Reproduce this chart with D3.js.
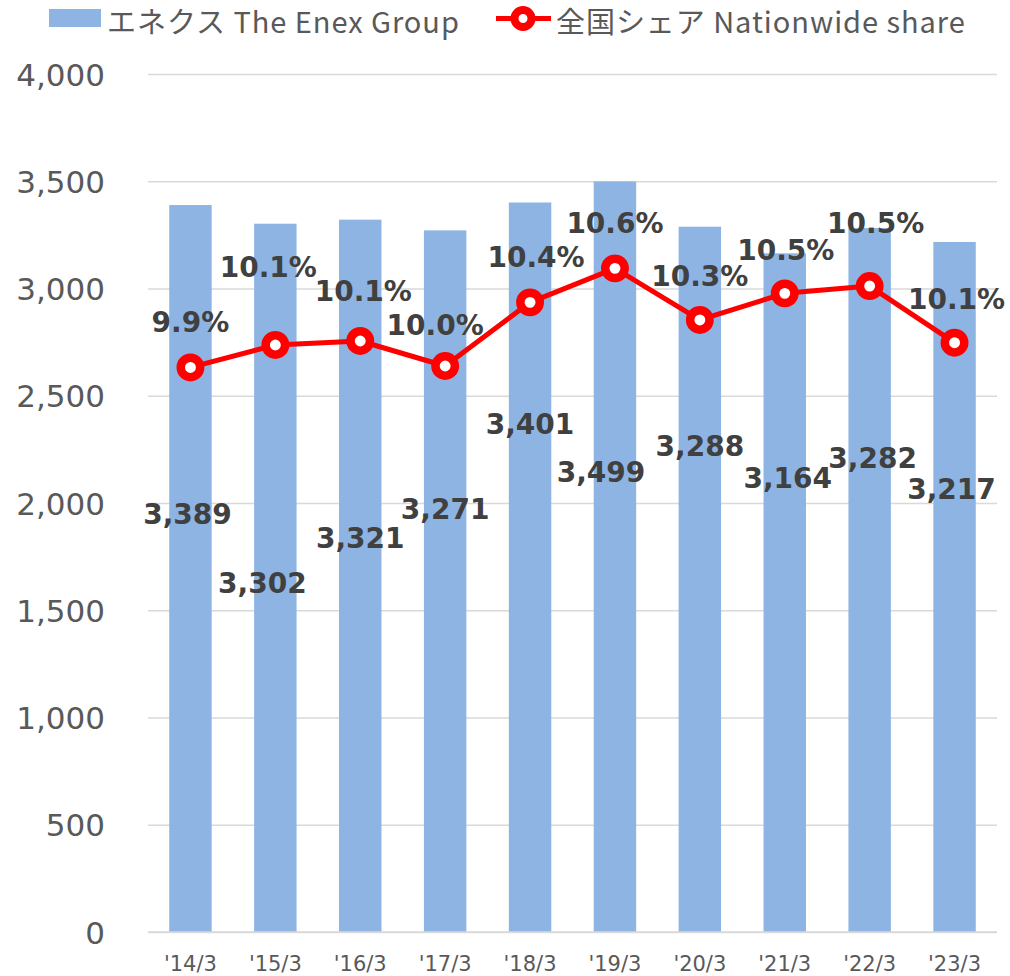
<!DOCTYPE html>
<html>
<head>
<meta charset="utf-8">
<script src="https://cdn.jsdelivr.net/npm/d3@7"></script>
<style>
    body { margin: 0; background: #fff; }
    svg { display: block; }
</style>
</head>
<body>
<svg id="chart" width="1010" height="976"></svg>
<script>
// data
const categories = ["'14/3", "'15/3", "'16/3", "'17/3", "'18/3", "'19/3", "'20/3", "'21/3", "'22/3", "'23/3"];
const enexValues = [3389, 3302, 3321, 3271, 3401, 3499, 3288, 3164, 3282, 3217];
const shareValues = [9.948, 10.105, 10.133, 9.958, 10.403, 10.641, 10.280, 10.466, 10.517, 10.121];
const yTicks = [0, 500, 1000, 1500, 2000, 2500, 3000, 3500, 4000];

// hand-placed label nudges (dx, dy of baseline from the anchor point)
const barLabelNudge = [[-3, 319], [-13, 369], [0, 328], [0, 289], [0, 232], [-14, 301], [0, 229], [3, 235], [3, 240], [-3, 257]];
const shareLabelNudge = [[0, -35], [-7, -68], [3, -40], [-10, -31], [6, -35], [0, -35], [0, -34], [1, -33], [6, -53], [2, -34]];

const BAR_COLOR = "#8eb4e3";
const LINE_COLOR = "#ff0000";
const TEXT_GREY = "#595959";
const LABEL_DARK = "#404040";
const FONT = "'DejaVu Sans'";

var svg = d3.select("#chart");
const plot = { left: 148, right: 997, top: 74, bottom: 932 };

const x = d3.scaleBand()
    .domain(categories)
    .range([plot.left, plot.right])
    .paddingInner(0.5)
    .paddingOuter(0.25);
const y = d3.scaleLinear().domain([0, 4000]).range([plot.bottom, plot.top]);
// hidden secondary axis for the share line
const y2 = d3.scaleLinear().domain([6, 12]).range([plot.bottom, plot.top]);

const cx = i => x(categories[i]) + x.bandwidth() / 2;

// gridlines + left ticks
const yAxis = svg.append("g")
    .attr("transform", `translate(${plot.left},0)`)
    .call(d3.axisLeft(y)
        .tickValues(yTicks)
        .tickSize(-(plot.right - plot.left))
        .tickPadding(43)
        .tickFormat(d3.format(",")));
yAxis.select(".domain").remove();
yAxis.selectAll(".tick line")
    .attr("stroke", "#d9d9d9")
    .attr("stroke-width", 1.5);
yAxis.selectAll(".tick text")
    .attr("fill", TEXT_GREY)
    .style("font-family", FONT)
    .style("font-size", "31px")
    .attr("dy", "0.36em");

// bars
svg.append("g").selectAll("rect")
    .data(enexValues)
    .join("rect")
    .attr("x", (d, i) => x(categories[i]))
    .attr("y", d => y(d))
    .attr("width", x.bandwidth())
    .attr("height", d => y(0) - y(d))
    .attr("fill", BAR_COLOR);

// redraw baseline on top of bars
svg.append("line")
    .attr("x1", plot.left).attr("x2", plot.right)
    .attr("y1", y(0)).attr("y2", y(0))
    .attr("stroke", "#d9d9d9").attr("stroke-width", 1.5);

// category labels
svg.append("g").selectAll("text")
    .data(categories)
    .join("text")
    .attr("x", (d, i) => cx(i))
    .attr("y", 971)
    .attr("text-anchor", "middle")
    .attr("fill", TEXT_GREY)
    .style("font-family", FONT)
    .style("font-size", "21px")
    .text(d => d);

// bar value labels
svg.append("g").selectAll("text")
    .data(enexValues)
    .join("text")
    .attr("x", (d, i) => cx(i) + barLabelNudge[i][0])
    .attr("y", (d, i) => y(d) + barLabelNudge[i][1])
    .attr("text-anchor", "middle")
    .attr("fill", LABEL_DARK)
    .style("font-family", FONT)
    .style("font-weight", "bold")
    .style("font-size", "28px")
    .text(d => d3.format(",")(d));

// share line
const line = d3.line()
    .x((d, i) => cx(i))
    .y(d => y2(d));
svg.append("path")
    .datum(shareValues)
    .attr("d", line)
    .attr("fill", "none")
    .attr("stroke", LINE_COLOR)
    .attr("stroke-width", 5)
    .attr("stroke-linejoin", "round");

svg.append("g").selectAll("circle")
    .data(shareValues)
    .join("circle")
    .attr("cx", (d, i) => cx(i))
    .attr("cy", d => y2(d))
    .attr("r", 9.7)
    .attr("fill", "#fff")
    .attr("stroke", LINE_COLOR)
    .attr("stroke-width", 8.5);

// share labels
svg.append("g").selectAll("text")
    .data(shareValues)
    .join("text")
    .attr("x", (d, i) => cx(i) + shareLabelNudge[i][0])
    .attr("y", (d, i) => y2(d) + shareLabelNudge[i][1])
    .attr("text-anchor", "middle")
    .attr("fill", LABEL_DARK)
    .style("font-family", FONT)
    .style("font-weight", "bold")
    .style("font-size", "28px")
    .text(d => d.toFixed(1) + "%");

// legend
const legend = svg.append("g")
    .style("font-family", "'Noto Sans CJK JP', sans-serif")
    .style("font-size", "29px")
    .style("letter-spacing", "0.95px");
legend.append("rect")
    .attr("x", 49).attr("y", 9)
    .attr("width", 52).attr("height", 18)
    .attr("fill", BAR_COLOR);
legend.append("text")
    .attr("x", 107).attr("y", 33)
    .attr("fill", TEXT_GREY)
    .text("エネクス The Enex Group");
legend.append("line")
    .attr("x1", 496).attr("x2", 551)
    .attr("y1", 18.5).attr("y2", 18.5)
    .attr("stroke", LINE_COLOR).attr("stroke-width", 5);
legend.append("circle")
    .attr("cx", 523).attr("cy", 18.5)
    .attr("r", 8.5)
    .attr("fill", "#fff")
    .attr("stroke", LINE_COLOR)
    .attr("stroke-width", 8);
legend.append("text")
    .attr("x", 556).attr("y", 33)
    .attr("fill", TEXT_GREY)
    .text("全国シェア Nationwide share");
</script>
</body>
</html>
